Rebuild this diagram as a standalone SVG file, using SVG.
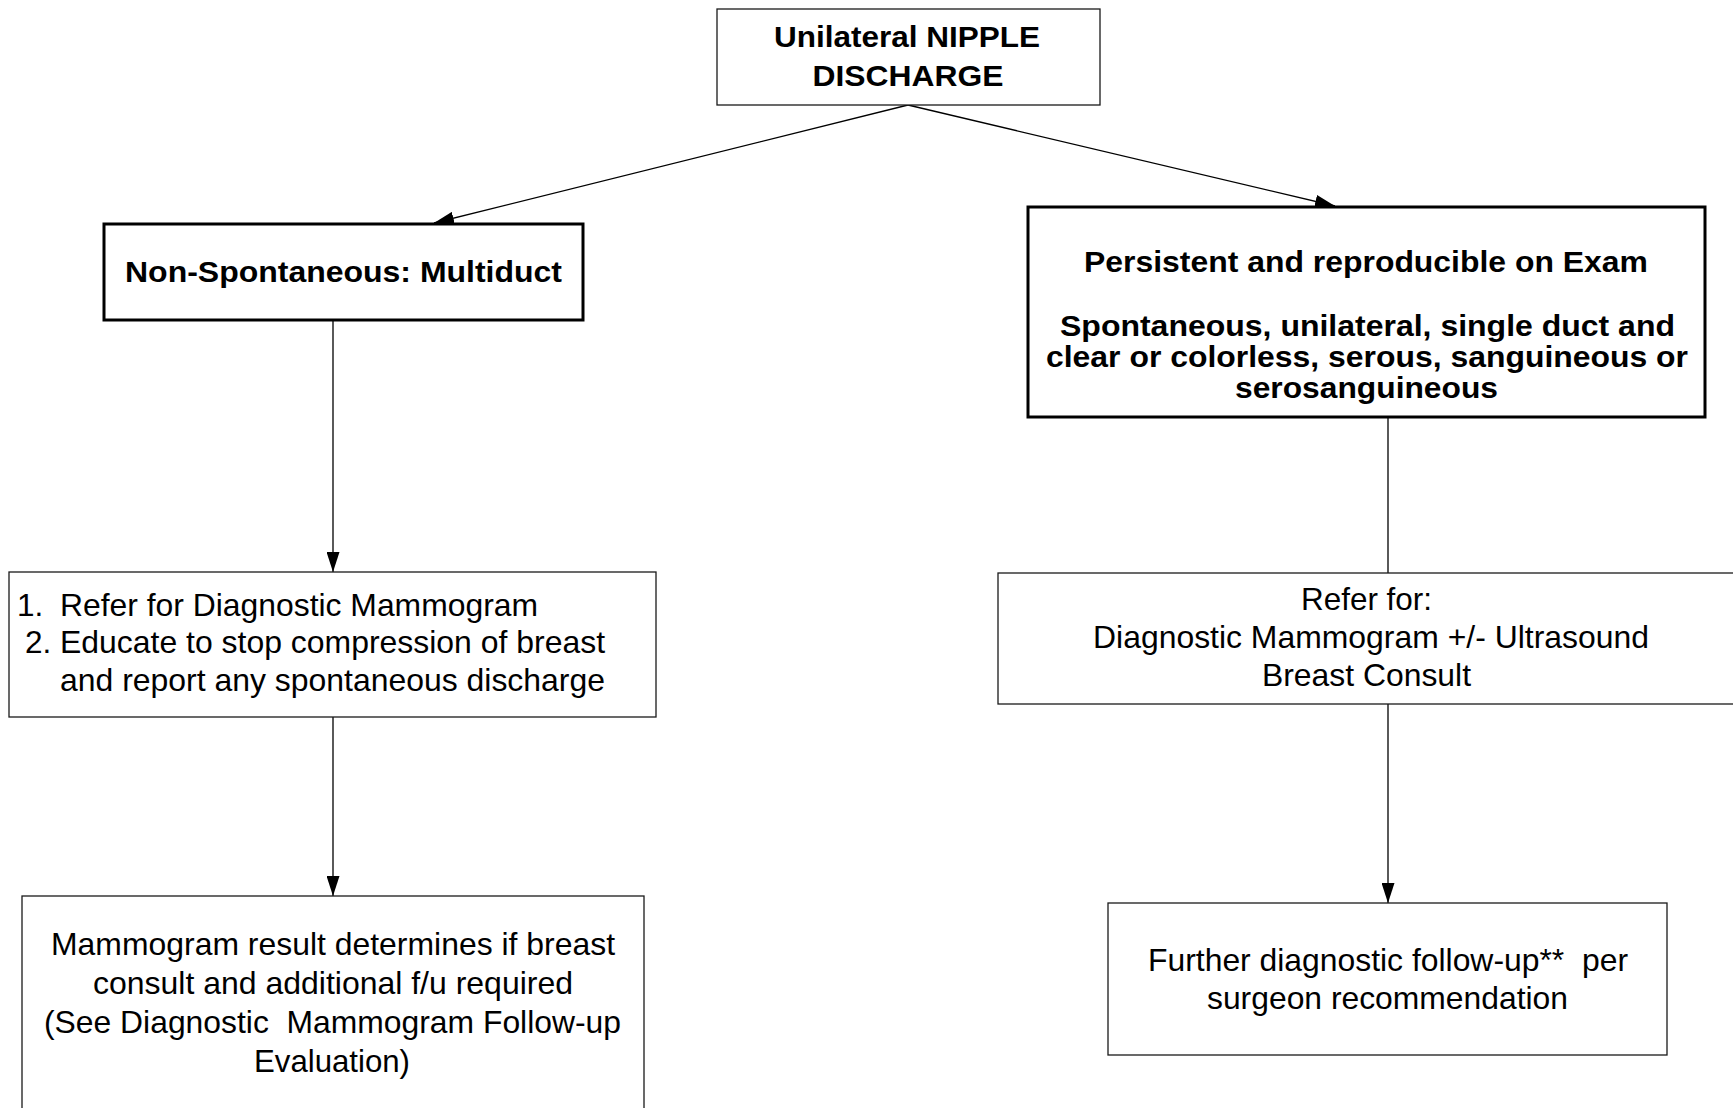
<svg xmlns="http://www.w3.org/2000/svg" width="1733" height="1108" viewBox="0 0 1733 1108">
<style>
.thin{fill:#fff;stroke:#1a1a1a;stroke-width:1.3}
.thick{fill:#fff;stroke:#000;stroke-width:3}
.b{font-family:"Liberation Sans",Arial,sans-serif;font-weight:bold;font-size:30px;fill:#000}
.r{font-family:"Liberation Sans",Arial,sans-serif;font-size:31.5px;fill:#000}
.c{text-anchor:middle}
.conn{stroke:#000;stroke-width:1.3;fill:none}
</style>
<defs>
<marker id="arr" viewBox="0 0 20 13" refX="20" refY="6.5" markerWidth="20" markerHeight="13" markerUnits="userSpaceOnUse" orient="auto">
<path d="M0,0 L20,6.5 L0,13 z" fill="#000"/>
</marker>
</defs>
<rect width="1733" height="1108" fill="#fff"/>
<g id="connectors">
<line class="conn" x1="908" y1="105" x2="434" y2="223" marker-end="url(#arr)"/>
<line class="conn" x1="908" y1="105" x2="1335" y2="206" marker-end="url(#arr)"/>
<line class="conn" x1="333" y1="320" x2="333" y2="572" marker-end="url(#arr)"/>
<line class="conn" x1="333" y1="717" x2="333" y2="896" marker-end="url(#arr)"/>
<line class="conn" x1="1388" y1="417" x2="1388" y2="573"/>
<line class="conn" x1="1388" y1="704" x2="1388" y2="903" marker-end="url(#arr)"/>
</g>
<g id="n-top">
<rect class="thin" x="717" y="9" width="383" height="96"/>
<text class="b c" x="907" y="47" textLength="266" lengthAdjust="spacingAndGlyphs">Unilateral NIPPLE</text>
<text class="b c" x="908" y="86" textLength="191" lengthAdjust="spacingAndGlyphs">DISCHARGE</text>
</g>
<g id="n-nonspont">
<rect class="thick" x="104" y="224" width="479" height="96"/>
<text class="b c" x="343.5" y="282" textLength="437" lengthAdjust="spacingAndGlyphs">Non-Spontaneous: Multiduct</text>
</g>
<g id="n-persistent">
<rect class="thick" x="1028" y="207" width="677" height="210"/>
<text class="b c" x="1366" y="272" textLength="564" lengthAdjust="spacingAndGlyphs">Persistent and reproducible on Exam</text>
<text class="b c" x="1367.5" y="336" textLength="615" lengthAdjust="spacingAndGlyphs">Spontaneous, unilateral, single duct and</text>
<text class="b c" x="1367" y="367" textLength="642" lengthAdjust="spacingAndGlyphs">clear or colorless, serous, sanguineous or</text>
<text class="b c" x="1366.5" y="398" textLength="263" lengthAdjust="spacingAndGlyphs">serosanguineous</text>
</g>
<g id="n-refer-left">
<rect class="thin" x="9" y="572" width="647" height="145"/>
<text class="r" x="17" y="616">1.</text>
<text class="r" x="60" y="616" textLength="478" lengthAdjust="spacingAndGlyphs">Refer for Diagnostic Mammogram</text>
<text class="r" x="25" y="653">2.</text>
<text class="r" x="60" y="653" textLength="545" lengthAdjust="spacingAndGlyphs">Educate to stop compression of breast</text>
<text class="r" x="60" y="691" textLength="545" lengthAdjust="spacingAndGlyphs">and report any spontaneous discharge</text>
</g>
<g id="n-refer-right">
<rect class="thin" x="998" y="573" width="740" height="131"/>
<text class="r c" x="1366.5" y="610" textLength="131" lengthAdjust="spacingAndGlyphs">Refer for:</text>
<text class="r c" x="1371" y="648" textLength="556" lengthAdjust="spacingAndGlyphs">Diagnostic Mammogram +/- Ultrasound</text>
<text class="r c" x="1366.5" y="686" textLength="209" lengthAdjust="spacingAndGlyphs">Breast Consult</text>
</g>
<g id="n-mammo-result">
<rect class="thin" x="22" y="896" width="622" height="220"/>
<text class="r c" x="333" y="955" textLength="564" lengthAdjust="spacingAndGlyphs">Mammogram result determines if breast</text>
<text class="r c" x="333" y="994" textLength="480" lengthAdjust="spacingAndGlyphs">consult and additional f/u required</text>
<text class="r c" x="332.5" y="1033" textLength="577" lengthAdjust="spacingAndGlyphs" xml:space="preserve">(See Diagnostic  Mammogram Follow-up</text>
<text class="r c" x="332" y="1072" textLength="156" lengthAdjust="spacingAndGlyphs">Evaluation)</text>
</g>
<g id="n-further">
<rect class="thin" x="1108" y="903" width="559" height="152"/>
<text class="r c" x="1388" y="971" textLength="480" lengthAdjust="spacingAndGlyphs" xml:space="preserve">Further diagnostic follow-up**  per</text>
<text class="r c" x="1387.5" y="1009" textLength="361" lengthAdjust="spacingAndGlyphs">surgeon recommendation</text>
</g>
</svg>
